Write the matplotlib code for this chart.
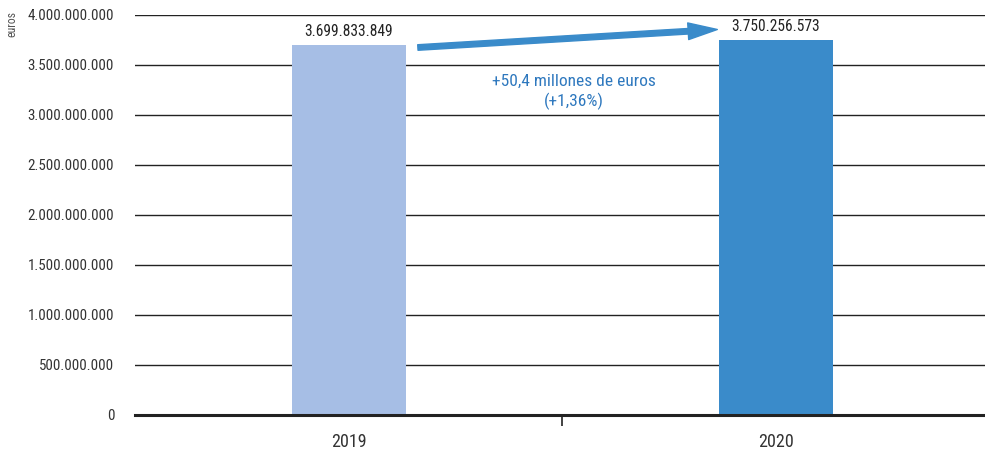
import matplotlib
matplotlib.use("Agg")
import matplotlib.pyplot as plt
from matplotlib import font_manager

years = ["2019", "2020"]
values = [3699833849, 3750256573]
value_labels = ["3.699.833.849", "3.750.256.573"]
bar_colors = ["#A6BEE5", "#3A8BCA"]
yticks = [0, 500000000, 1000000000, 1500000000, 2000000000, 2500000000,
          3000000000, 3500000000, 4000000000]
ytick_labels = ["0", "500.000.000", "1.000.000.000", "1.500.000.000", "2.000.000.000",
                "2.500.000.000", "3.000.000.000", "3.500.000.000", "4.000.000.000"]
annotation = "+50,4 millones de euros\n(+1,36%)"

# pick a condensed sans font (Roboto Condensed if available)
chosen = None
for f in font_manager.fontManager.ttflist:
    key = (f.name + " " + f.fname).lower()
    if "roboto condensed" in key or "robotocondensed" in key:
        if f.style == "normal" and not any(w in key for w in ("bold", "light", "italic", "thin", "black", "medium")):
            chosen = f
            break
if chosen is not None:
    main_font = font_manager.FontProperties(fname=chosen.fname)
else:
    main_font = font_manager.FontProperties(family=["Liberation Sans", "DejaVu Sans"])

def F(size):
    p = main_font.copy()
    p.set_size(size)
    return p

fig = plt.figure(figsize=(9.85, 4.55), dpi=100)
ax = fig.add_axes([135/985, 40/455, 850/985, 400/455])

x = list(range(len(years)))
ax.bar(x, values, width=0.267, color=bar_colors, zorder=3)
for xi, v, lab in zip(x, values, value_labels):
    ax.annotate(lab, (xi, v), xytext=(0, 4), textcoords="offset points",
                ha="center", va="bottom", fontproperties=F(11.2), color="#222222")

ax.set_xlim(-0.501, 1.49)
ax.set_ylim(0, 4000000000)
ax.set_yticks(yticks)
ax.set_yticklabels(ytick_labels, fontproperties=F(10.8), color="#333333")
ax.tick_params(axis="y", length=0, pad=15)
ax.set_xticks([0.5])
ax.set_xticklabels([""])
ax.tick_params(axis="x", length=8, width=1.2, color="#222222", direction="out")
ax.set_xticks(x, minor=True)
ax.set_xticklabels(years, minor=True, fontproperties=F(13), color="#333333")
ax.tick_params(axis="x", which="minor", length=0, pad=13)

ax.grid(axis="y", color="#222222", linewidth=1, zorder=0)
for s in ["top", "right", "left"]:
    ax.spines[s].set_visible(False)
ax.spines["bottom"].set_linewidth(2.2)
ax.spines["bottom"].set_color("#222222")
ax.spines["bottom"].set_zorder(4)

ax.annotate("", xy=(0.863, 3855000000), xytext=(0.1616, 3675000000),
            arrowprops=dict(width=4.0, headwidth=12, headlength=21,
                            color="#3A8BCA", shrink=0), zorder=5)
ax.text(0.526, 3230000000, annotation, ha="center", va="center",
        fontproperties=F(12.5), color="#2E78BE", linespacing=1.25)

fig.text(12/985, 1 - 24/455, "euros", rotation=90, ha="center", va="center",
         fontproperties=F(8.5), color="#555555")

fig.savefig("out.png", dpi=100)
